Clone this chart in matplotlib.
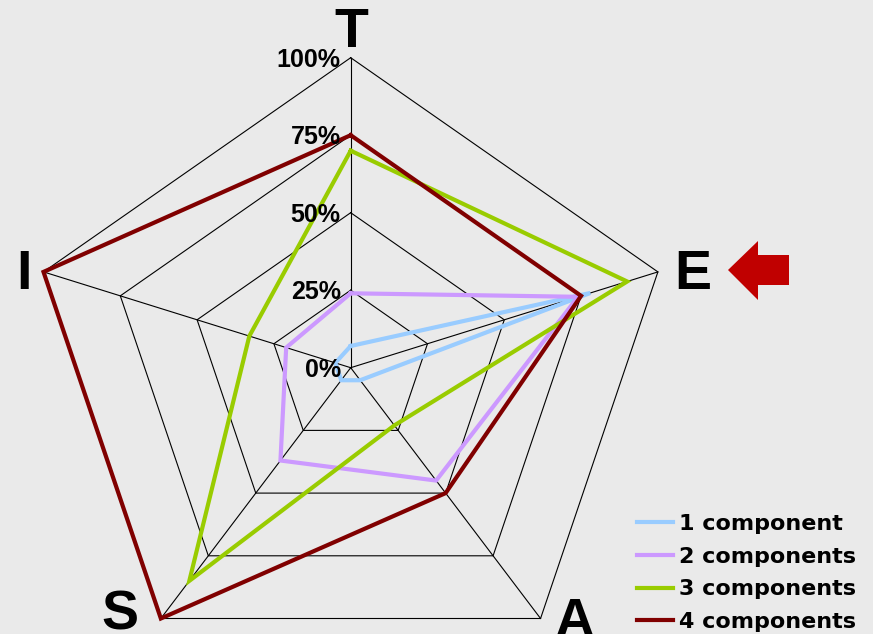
import numpy as np
import matplotlib
matplotlib.use("Agg")
import matplotlib.pyplot as plt
from matplotlib.patches import Polygon
from matplotlib.transforms import offset_copy

# ---------------------------------------------------------------------------
# Data
# ---------------------------------------------------------------------------
spokes = ["T", "E", "A", "S", "I"]
ring_levels = [0.0, 0.25, 0.5, 0.75, 1.0]
ring_labels = ["0%", "25%", "50%", "75%", "100%"]

series_names = ["1 component", "2 components", "3 components", "4 components"]
one_comp = [0.07, 0.78, 0.05, 0.05, 0.05]
two_comp = [0.24, 0.74, 0.45, 0.37, 0.21]
three_comp = [0.70, 0.90, 0.23, 0.85, 0.33]
four_comp = [0.75, 0.75, 0.50, 1.00, 1.00]

# ---------------------------------------------------------------------------
# Palette
# ---------------------------------------------------------------------------
BG = "#EAEAEA"
COLORS = ["#99CCFF", "#CC99FF", "#99CC00", "#800000"]
ARROW = "#C00000"

W, H, DPI = 873, 634, 100

fig = plt.figure(figsize=(W / DPI, H / DPI), dpi=DPI, facecolor=BG)

# polar axes, slightly wider than tall
cx, cy = 350.7, 367.7
rx, ry = 323, 310
ax = fig.add_axes([(cx - rx) / W, (H - cy - ry) / H, 2 * rx / W, 2 * ry / H],
                  projection="polar")
ax.set_aspect("auto")
ax.set_facecolor("none")
ax.set_theta_zero_location("N")
ax.set_theta_direction(-1)
ax.set_ylim(0, 1)
ax.set_xticks([])
ax.set_yticks([])
ax.grid(False)
ax.spines["polar"].set_visible(False)

n = len(spokes)
angles = np.linspace(0, 2 * np.pi, n, endpoint=False)
closed = np.append(angles, angles[0])

# pentagon rings and spokes
for r in ring_levels[1:]:
    ax.plot(closed, [r] * (n + 1), color="black", lw=0.8, zorder=1, clip_on=False)
for a in angles:
    ax.plot([a, a], [0, 1], color="black", lw=0.8, zorder=1, clip_on=False)

# series
handles = []
for name, vals, col in zip(series_names,
                           [one_comp, two_comp, three_comp, four_comp], COLORS):
    v = np.append(vals, vals[0])
    (ln,) = ax.plot(closed, v, color=col, lw=3.0, label=name, zorder=3,
                    clip_on=False, solid_joinstyle="miter")
    handles.append(ln)

# ring labels along the T spoke
lab_tr = offset_copy(ax.transData, fig=fig, x=-10, y=-9, units="dots")
for r, t in zip(ring_levels, ring_labels):
    ax.text(0, r, t, transform=lab_tr, ha="right", va="baseline",
            fontsize=18, fontweight="bold", family="Liberation Sans",
            color="black", zorder=4)

# spoke letters (pixel positions of baselines)
letter_pos = {"T": (351, 47), "E": (693, 289), "A": (575, 637),
              "S": (120, 629), "I": (24, 289)}
for s in spokes:
    x, y = letter_pos[s]
    fig.text(x / W, 1 - y / H, s, ha="center", va="baseline",
             fontsize=40, fontweight="bold", family="Liberation Sans",
             color="black")

# red arrow pointing at E
arrow_px = [(728, 270), (758, 241), (758, 255), (789, 255),
            (789, 285), (758, 285), (758, 300)]
fig.patches.append(Polygon([(x / W, 1 - y / H) for x, y in arrow_px],
                           closed=True, facecolor=ARROW, edgecolor="none",
                           transform=fig.transFigure))

# legend
fig.legend(handles=handles, labels=series_names, loc="upper left",
           bbox_to_anchor=(637 / W, 1 - 514 / H), bbox_transform=fig.transFigure,
           frameon=False, borderpad=0, borderaxespad=0,
           handlelength=1.6, handletextpad=0.28, labelspacing=0.57,
           prop={"family": "DejaVu Sans", "weight": "bold", "size": 16})

fig.savefig("out.png", dpi=DPI, facecolor=BG)
